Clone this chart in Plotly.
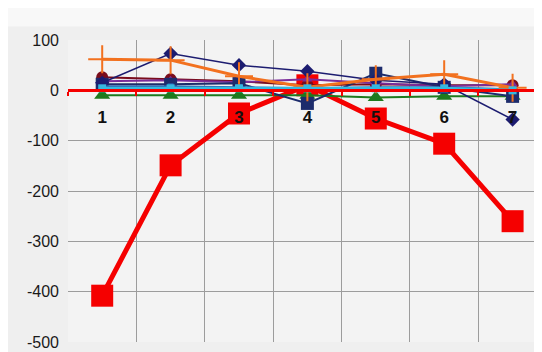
import plotly.graph_objects as go

categories = ["1", "2", "3", "4", "5", "6", "7"]

red_sq = [-408, -149, -46, 10, -56, -106, -260]
orange_plus = [62, 60, 28, 6, 22, 32, 5]
navy_diamond = [15, 73, 50, 38, 20, 12, -58]
navy_square = [12, 12, 14, -26, 34, 6, -12]
maroon_circle = [26, 22, 18, 10, 12, 10, 10]
purple_tri = [18, 20, 16, 22, 14, 8, 12]
green_tri = [-10, -10, -10, -10, -14, -12, -12]
blue_line = [8, 8, 6, 4, 6, 6, 2]
cyan_line = [4, 4, 4, 4, 4, 4, 0]

y_ticks = [100, 0, -100, -200, -300, -400, -500]
y_tick_text = ["100", "0", "-100", "-200", "-300", "-400", "-500"]

series = [
    # name, values, color, line width, marker symbol, marker size
    ("A", red_sq, "#f50000", 5, "square", 22),
    ("G", green_tri, "#1e7a1e", 2, "triangle-up", 14),
    ("E", maroon_circle, "#7a0c1c", 2, "circle", 12),
    ("F", purple_tri, "#7b2c9a", 2, "triangle-up", 9),
    ("D", navy_square, "#1d2c6c", 2, "square", 13),
    ("I", blue_line, "#2b64b0", 2, "square", 6),
    ("C", navy_diamond, "#1c1c70", 1.5, "diamond", 11),
    ("B", orange_plus, "#f2711f", 3, "cross-thin-open", 20),
    ("H", cyan_line, "#35b8e0", 3, "square", 8),
]

fig = go.Figure()
for name, vals, color, lw, sym, size in series:
    marker = dict(symbol=sym, size=size, color=color)
    if sym == "cross-thin-open":
        marker["line"] = dict(color=color, width=2)
    fig.add_trace(go.Scatter(
        x=categories, y=vals, name=name, mode="lines+markers",
        line=dict(color=color, width=lw), marker=marker,
    ))

# page body has an 8px margin, so the figure is a bit smaller than the window
fig.update_layout(
    width=534, height=344,
    margin=dict(l=60, r=0, t=32, b=10),
    paper_bgcolor="#efefef",
    plot_bgcolor="#f3f3f3",
    showlegend=False,
    font=dict(family="Liberation Sans, Arial, sans-serif", color="#1a1a1a"),
    shapes=[dict(type="rect", xref="paper", yref="paper", x0=-0.2, x1=1.05,
                 y0=1.045, y1=1.2, fillcolor="#f8f8f8", line=dict(width=0), layer="below")],
)

fig.update_xaxes(
    type="category", range=[-0.5, 6.43],
    anchor="free", position=500 / 600,
    showline=True, linecolor="#f50000", linewidth=3,
    ticks="outside", tickson="boundaries", ticklen=4, tickwidth=2, tickcolor="#f50000",
    showgrid=True, gridcolor="#9c9c9c", gridwidth=1,
    tickfont=dict(size=17, color="#111", family="Liberation Sans, Arial, sans-serif", weight="bold"),
    ticklabelstandoff=10,
)
fig.update_yaxes(
    range=[-500, 100], tickvals=y_ticks, ticktext=y_tick_text,
    showgrid=True, gridcolor="#9c9c9c", gridwidth=1,
    zeroline=False, showline=False,
    tickfont=dict(size=16, color="#1a1a1a"),
    ticklabelstandoff=8,
)

fig.write_html("out.html")
